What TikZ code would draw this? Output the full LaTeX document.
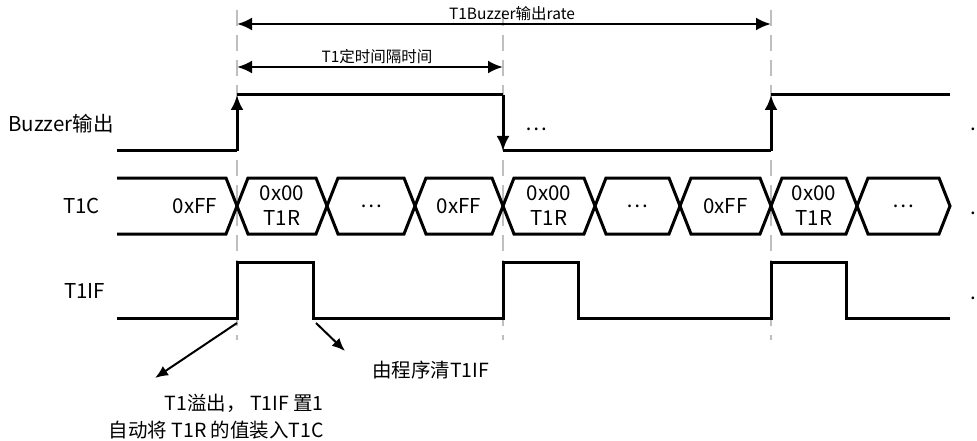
\documentclass[tikz,border=0pt]{standalone}
\usepackage{fontspec}
\setmainfont{Noto Sans CJK SC}
\usetikzlibrary{arrows.meta}

\tikzset{
  wave/.style={line width=3pt},
  bus/.style={line width=3pt, line join=miter},
  guide/.style={line width=1.8pt, color=black!25, dash pattern=on 16pt off 9pt},
  sig/.style={font=\fontsize{20.5}{24}\selectfont, anchor=west, inner sep=0pt},
  val/.style={font=\fontsize{20.5}{25}\selectfont, align=center, inner sep=0pt},
  note/.style={font=\fontsize{19.5}{27}\selectfont, align=right, inner sep=0pt},
  dim/.style={font=\fontsize{15.5}{18}\selectfont, inner sep=0pt},
  hint/.style={line width=2pt, -{Latex[length=13pt,width=11pt]}},
}

\begin{document}
\begin{tikzpicture}[x=1pt,y=-1pt,>={Latex[length=15pt,width=13pt]}]
\useasboundingbox (0,0) rectangle (977,441);
\foreach \x in {237,503,771}
  \draw[guide] (\x,10) -- (\x,340);

\coordinate (ra) at (237,24);
\coordinate (rb) at (771,24);
\coordinate (ia) at (237,67);
\coordinate (ib) at (503,67);
\draw[<->,line width=2.7pt] (ra) -- (rb);
\draw[<->,line width=2.7pt] (ia) -- (ib);
\node[dim] (rate) at (512,14) {T1Buzzer输出rate};
\node[dim] (intv) at (377,57) {T1定时间隔时间};

\node[sig] (buz) at (8,124) {Buzzer输出};
\node[sig] (t1c) at (63,206) {T1C};
\node[sig] (t1if) at (64,291) {T1IF};

\draw[wave] (117,151) -- (237,151);
\draw[wave,->] (237,151) -- (237,95);
\draw[wave] (237,95) -- (503,95);
\draw[wave,->] (503,95) -- (503,151);
\draw[wave] (503,151) -- (771,151);
\draw[wave,->] (771,151) -- (771,95);
\draw[wave] (771,95) -- (950,95);
\node[val,anchor=base] (bdots) at (536,131) {\ldots};
\node[val,anchor=base] (bmore) at (973,131) {.};

\draw[bus] (117,178) -- (226,178) -- (237,206) -- (226,234) -- (117,234);
\node[val] (v0) at (195,206) {0xFF};
\foreach \a/\b/\t [count=\i] in {237/327/{0x00\\T1R},327/415/{\ldots},415/503/0xFF,
    503/595/{0x00\\T1R},595/680/{\ldots},680/771/0xFF,771/857/{0x00\\T1R},857/950/{\ldots}}
{
  \draw[bus] (\a,206) -- (\a+11,178) -- (\b-11,178) -- (\b,206)
    -- (\b-11,234) -- (\a+11,234) -- cycle;
  \node[val] (v\i) at ({(\a+\b)/2},206) {\t};
}
\node[val,anchor=base] (cmore) at (973,214) {.};

\draw[wave] (117,318) -- (237,318) -- (237,262) -- (313,262) -- (313,318)
  -- (503,318) -- (503,262) -- (578,262) -- (578,318)
  -- (771,318) -- (771,262) -- (846,262) -- (846,318) -- (950,318);
\node[val,anchor=base] (fmore) at (973,299) {.};

\coordinate (ovf) at (237,323);
\coordinate (ovt) at (155,378);
\coordinate (clf) at (316,323);
\coordinate (clt) at (345,351);
\draw[hint] (ovf) -- (ovt);
\draw[hint] (clf) -- (clt);
\node[note,anchor=west] (clr) at (372,370) {由程序清T1IF};
\node[note,anchor=east] (ovn) at (324,417) {T1溢出， T1IF 置1\\自动将 T1R 的值装入T1C};
\end{tikzpicture}
\end{document}
